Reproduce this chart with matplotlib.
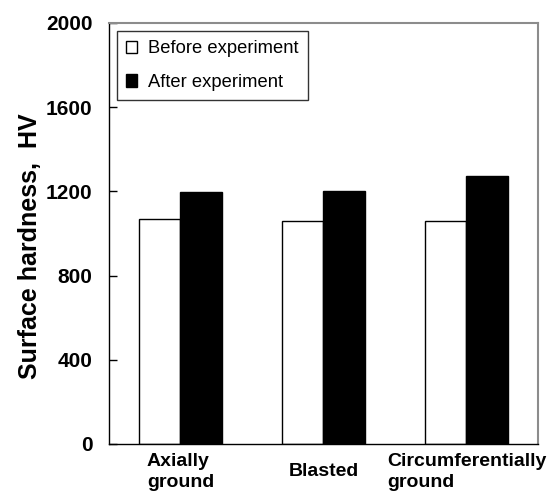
import numpy as np
import matplotlib
matplotlib.use('Agg')
import matplotlib.pyplot as plt

plt.rcParams['font.family'] = ['Liberation Sans', 'DejaVu Sans']

# data
categories = ['Axially\nground', 'Blasted', 'Circumferentially\nground']
before = [1070, 1061, 1061]
after = [1196, 1203, 1273]
yticks = [0, 400, 800, 1200, 1600, 2000]

x = np.arange(len(categories))
w = 0.29

fig = plt.figure(figsize=(5.51, 5.03), dpi=100)
ax = fig.add_axes([0.1978, 0.1173, 0.7786, 0.837])

ax.bar(x - w/2, before, w, color='white', edgecolor='black', linewidth=1,
       label='Before experiment')
ax.bar(x + w/2, after, w, color='black', edgecolor='black', linewidth=1,
       label='After experiment')

ax.set_xlim(-0.5, 2.5)
ax.set_ylim(0, 2000)
ax.set_yticks(yticks)
ax.set_yticklabels([str(v) for v in yticks], fontsize=15, fontweight='bold')
ax.tick_params(axis='y', direction='in', length=6, width=1, pad=12)

ax.set_xticks(x)
ax.set_xticklabels(categories, fontsize=14, fontweight='bold')
ax.tick_params(axis='x', length=0, pad=20)
for lbl in ax.get_xticklabels():
    lbl.set_verticalalignment('center')
    lbl.set_multialignment('left')
    lbl.set_linespacing(1.35)

for s in ['top', 'right']:
    ax.spines[s].set_color('#8c8c8c')
    ax.spines[s].set_linewidth(1.5)
for s in ['left', 'bottom']:
    ax.spines[s].set_color('black')
    ax.spines[s].set_linewidth(1)

ax.set_ylabel('Surface hardness,  HV', fontsize=18, fontweight='bold')
ax.yaxis.set_label_coords(-0.157, 0.47)

leg = ax.legend(loc='upper left', fontsize=13.2, frameon=True, fancybox=False,
                edgecolor='black', handlelength=0.6, handleheight=0.7,
                handletextpad=0.6, labelspacing=0.9, borderaxespad=0.45,
                borderpad=0.5)
leg.get_frame().set_linewidth(1)

fig.savefig('out.png', dpi=100)
